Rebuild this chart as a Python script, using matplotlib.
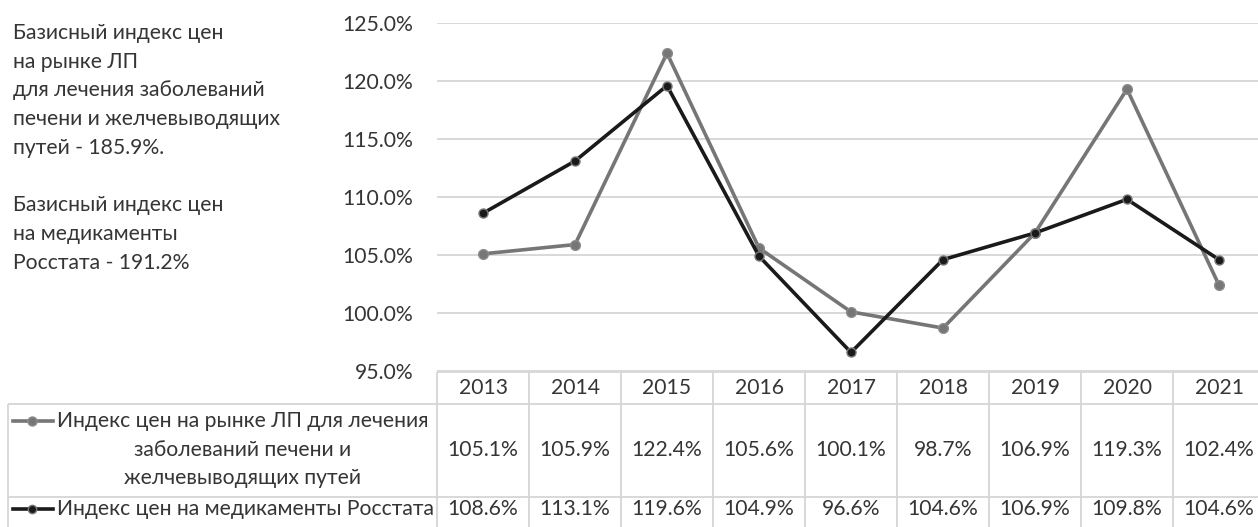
import numpy as np
from matplotlib import pyplot as plt

years = ["2013", "2014", "2015", "2016", "2017", "2018", "2019", "2020", "2021"]
lp_index = [105.1, 105.9, 122.4, 105.6, 100.1, 98.7, 106.9, 119.3, 102.4]
rosstat_index = [108.6, 113.1, 119.6, 104.9, 96.6, 104.6, 106.9, 109.8, 104.6]
lp_label = ["Индекс цен на рынке ЛП для лечения", "заболеваний печени и", "желчевыводящих путей"]
rosstat_label = "Индекс цен на медикаменты Росстата"
note_lines = ["Базисный индекс цен", "на рынке ЛП", "для лечения заболеваний",
              "печени и желчевыводящих", "путей - 185.9%.", "",
              "Базисный индекс цен", "на медикаменты", "Росстата - 191.2%"]
y_ticks = [95, 100, 105, 110, 115, 120, 125]

plt.rcParams['font.family'] = ['Lato', 'DejaVu Sans']
FS = 15.2
TXT = "#353535"
GRID = "#d6d6d6"
GRAY = "#767676"
BLACK = "#1a1a1a"

W, H = 1258, 527
fig = plt.figure(figsize=(W / 100, H / 100), dpi=100)

# pixel layout (the table runs a little past the right edge, as in the source)
n = len(years)
col_w = 92
x0 = 437
x1 = x0 + n * col_w
y_top, y_bot = 23, 371
ax = fig.add_axes([x0 / W, 1 - y_bot / H, (x1 - x0) / W, (y_bot - y_top) / H])
xs = np.arange(n)
ax.set_xlim(-0.5, n - 0.5)
ax.set_ylim(95, 125)
ax.set_yticks(y_ticks)
ax.set_yticklabels([f"{v:.1f}%" for v in y_ticks], fontsize=FS, color=TXT)
ax.tick_params(axis="y", length=0, pad=17)
ax.set_xticks([])
for s in ax.spines.values():
    s.set_visible(False)
ax.grid(axis="y", color=GRID, linewidth=1.3)
ax.set_axisbelow(True)

ax.plot(xs, lp_index, color=GRAY, linewidth=2.6, marker="o", markersize=7,
        markerfacecolor=GRAY, markeredgecolor="#8c8c8c", zorder=3)
ax.plot(xs, rosstat_index, color=BLACK, linewidth=2.6, marker="o", markersize=6.5,
        markerfacecolor=BLACK, markeredgecolor="#777777", zorder=4)

# overlay in pixel coordinates for text and table
ov = fig.add_axes([0, 0, 1, 1])
ov.set_xlim(0, W)
ov.set_ylim(H, 0)
ov.axis("off")

# left note
for i, line in enumerate(note_lines):
    ov.text(13, 33 + i * 28.7, line, fontsize=FS, color=TXT, va="center", ha="left")

# data table
r0, r1, r2, r3 = 372, 404, 497, 531
edges = [x0 + i * col_w for i in range(n + 1)]
tkw = dict(color=GRID, linewidth=1.3, solid_capstyle="butt")
ov.plot([x0, x1], [r0, r0], **tkw)
ov.plot([8, x1], [r1, r1], **tkw)
ov.plot([8, x1], [r2, r2], **tkw)
for e in edges:
    ov.plot([e, e], [r0, r3], **tkw)
ov.plot([8, 8], [r1, r3], **tkw)

row2_y = 509
for i, yr in enumerate(years):
    cx = x0 + (i + 0.5) * col_w
    ov.text(cx, (r0 + r1) / 2, yr, fontsize=FS, color=TXT, ha="center", va="center")
    ov.text(cx, (r1 + r2) / 2, f"{lp_index[i]:.1f}%", fontsize=FS, color=TXT, ha="center", va="center")
    ov.text(cx, row2_y, f"{rosstat_index[i]:.1f}%", fontsize=FS, color=TXT, ha="center", va="center")

# row labels with legend keys
ov.plot([13, 53], [421, 421], color=GRAY, linewidth=2.6)
ov.plot([32], [421], marker="o", markersize=6.5, color=GRAY, markeredgecolor="#8c8c8c")
ov.text(57, 421, lp_label[0], fontsize=FS, color=TXT, ha="left", va="center")
ov.text(243, 450, lp_label[1], fontsize=FS, color=TXT, ha="center", va="center")
ov.text(243, 478, lp_label[2], fontsize=FS, color=TXT, ha="center", va="center")

ov.plot([13, 53], [row2_y, row2_y], color=BLACK, linewidth=2.6)
ov.plot([32], [row2_y], marker="o", markersize=6, color=BLACK, markeredgecolor="#777777")
ov.text(57, row2_y, rosstat_label, fontsize=FS, color=TXT, ha="left", va="center")

fig.savefig("out.png", dpi=100)
